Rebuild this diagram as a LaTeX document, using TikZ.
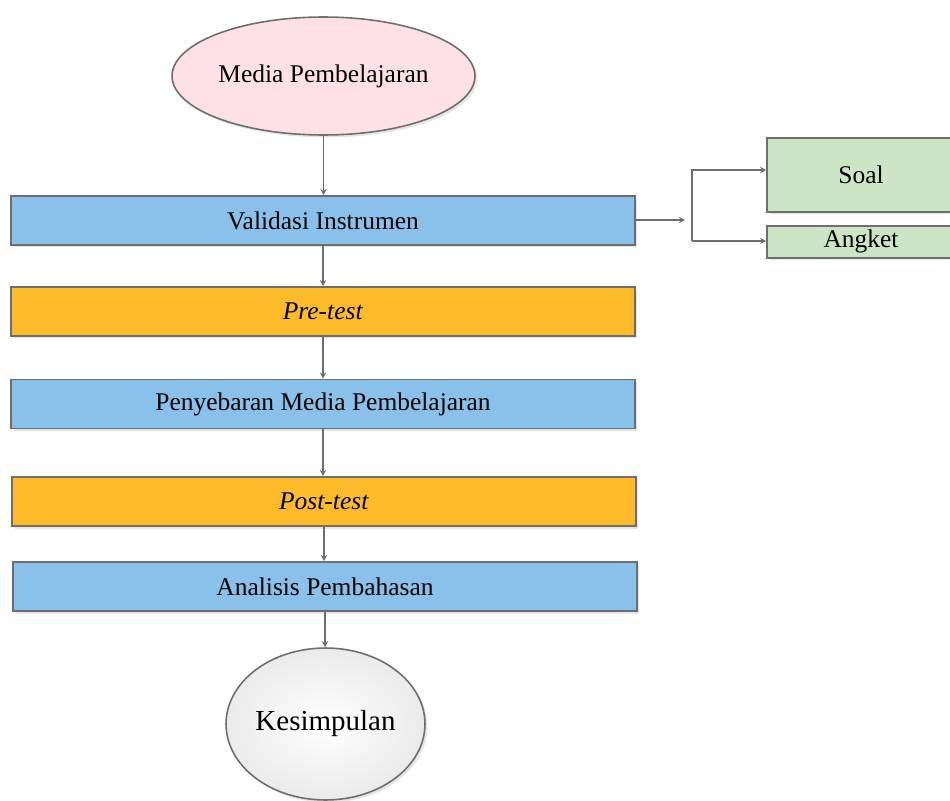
\documentclass[tikz,border=0pt]{standalone}
\usepackage{fontspec}
\setmainfont{Liberation Serif}
\usetikzlibrary{shapes,shadows,arrows.meta}
\definecolor{boxblue}{HTML}{8AC1EA}
\definecolor{boxorange}{HTML}{FDBB2A}
\definecolor{boxgreen}{HTML}{CDE4C7}
\definecolor{boxpink}{HTML}{FDE1E6}
\definecolor{linegray}{HTML}{6E6E6E}
\tikzstyle{node_base} = [draw=linegray, line width=0.9pt, inner sep=0pt, font=\fontsize{14.5}{17}\selectfont, drop shadow={shadow xshift=0.05cm, shadow yshift=-0.05cm, fill=black!10, opacity=1}]
\tikzstyle{node_step} = [node_base, rectangle, fill=boxblue, minimum width=12.48cm, minimum height=0.98cm]
\tikzstyle{node_test} = [node_base, rectangle, fill=boxorange, minimum width=12.48cm, minimum height=0.98cm]
\tikzstyle{node_item} = [node_base, rectangle, fill=boxgreen, minimum width=3.76cm]
\tikzstyle{node_start} = [node_base, ellipse, fill=boxpink, minimum width=6.06cm, minimum height=2.36cm]
\tikzstyle{node_end} = [node_base, ellipse, inner color=white, outer color=black!8, minimum width=3.98cm, minimum height=3.04cm, font=\fontsize{16.5}{19}\selectfont]
\tikzstyle{edge_normal} = [draw=linegray, line width=0.9pt, -{Stealth[length=3.5pt,width=3.5pt]}]

\begin{document}
\begin{tikzpicture}[x=0.02cm, y=-0.02cm]
			\useasboundingbox (0,0) rectangle (950,801);
			\node (M) at (323.5,76) [node_start] {Media Pembelajaran};
			\node (V) at (323,220.5) [node_step] {\raisebox{-2pt}{Validasi Instrumen}};
			\node (R) at (323,311.5) [node_test] {\raisebox{-2pt}{\textit{Pre-test}}};
			\node (P) at (323,404) [node_step] {\raisebox{-2pt}{Penyebaran Media Pembelajaran}};
			\node (O) at (324,501.5) [node_test] {\raisebox{-2pt}{\textit{Post-test}}};
			\node (A) at (325,586.5) [node_step] {\raisebox{-2pt}{Analisis Pembahasan}};
			\node (K) at (325.5,724) [node_end] {Kesimpulan};
			\node (S) at (861,175) [node_item, minimum height=1.48cm] {\raisebox{-2pt}{Soal}};
			\node (T) at (861,242) [node_item, minimum height=0.64cm] {\raisebox{-3pt}[0pt][0pt]{Angket}};
			\coordinate (V_out) at (685,220);
			\coordinate (S_in) at (692,170);
			\coordinate (T_in) at (692,241);
			\draw[edge_normal] (M.south) -- (M.south |- V.north);
			\draw[edge_normal] (V.south) -- (V.south |- R.north);
			\draw[edge_normal] (R.south) -- (R.south |- P.north);
			\draw[edge_normal] (P.south) -- (P.south |- O.north);
			\draw[edge_normal] (O.south) -- (O.south |- A.north);
			\draw[edge_normal] (A.south) -- (A.south |- K.north);
			\draw[edge_normal] (V.east |- V_out) -- (V_out);
			\draw[edge_normal] (T_in) -- (S_in) -- (S_in -| S.west);
			\draw[edge_normal] (T_in) -- (T_in -| T.west);
		\end{tikzpicture}
\end{document}
